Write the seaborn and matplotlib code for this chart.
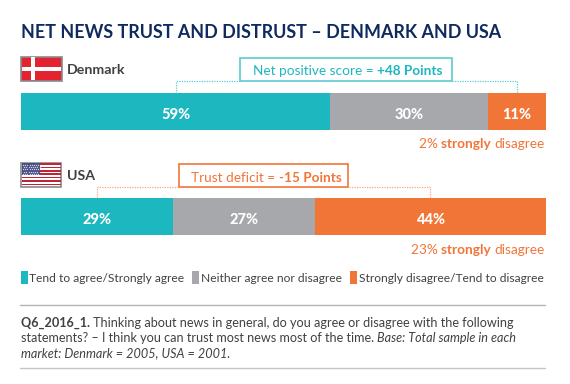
import matplotlib
matplotlib.use("Agg")
import matplotlib.pyplot as plt
from matplotlib.patches import Rectangle
import pandas as pd
import seaborn as sns

markets = ["Denmark", "USA"]
series_names = ["Tend to agree/Strongly agree", "Neither agree nor disagree", "Strongly disagree/Tend to disagree"]
agree = [59, 29]
neither = [30, 27]
disagree = [11, 44]
strongly_disagree = [2, 23]
colors = ["#1DB7C0", "#A7A8AB", "#F27538"]

sns.set_theme(style="white")
plt.rcParams["font.family"] = ["Lato", "DejaVu Sans"]

W, H = 570, 384
fig = plt.figure(figsize=(W / 100, H / 100), dpi=100)
ax = fig.add_axes([21 / W, 1 - 235 / H, 524.5 / W, 142 / H])
df = pd.DataFrame({"market": markets, "agree": agree, "neither": neither, "disagree": disagree})
left = [0, 0]
for col, c, name in zip(["agree", "neither", "disagree"], colors, series_names):
    sns.barplot(data=df, y="market", x=col, color=c, width=37 / 105, left=left, ax=ax,
                saturation=1, order=markets, linewidth=0, label=name)
    for i, v in enumerate(df[col]):
        ax.annotate(f"{v}%", (left[i] + v / 2, i), xytext=(0, -1.5), textcoords="offset points",
                    color="white", ha="center", va="center_baseline", fontsize=10.5, fontweight="black")
    left = [a + b for a, b in zip(left, df[col])]
ax.set_xlim(0, 100)
ax.set_ylim(1 + 0.5 * 142 / 105 - 0.5, -0.5 * 142 / 105 + 0.5)
ax.axis("off")
if ax.get_legend():
    ax.get_legend().remove()

ov = fig.add_axes([0, 0, 1, 1], zorder=5)
ov.set_xlim(0, W)
ov.set_ylim(H, 0)
ov.axis("off")
ov.patch.set_alpha(0)


def runs(x, y, parts, size, anchor="left"):
    """Draw consecutive text runs: (text, colour, weight, style)."""
    r = fig.canvas.get_renderer()
    arts = []
    cur = x
    for txt, col, wt, st in parts:
        t = ov.text(cur, y, txt, color=col, fontweight=wt, fontstyle=st, fontsize=size, ha="left", va="center_baseline")
        arts.append(t)
        cur += t.get_window_extent(r).width
    if anchor == "right":
        shift = cur - x
        for t in arts:
            t.set_x(t.get_position()[0] - shift)
    return cur


NAVY = "#0E2A5E"
DARK = "#414042"
TEAL = colors[0]
OR = colors[2]

ov.text(21, 30.5, "NET NEWS TRUST AND DISTRUST – DENMARK AND USA", color=NAVY, fontsize=12.88, fontweight="bold",
        va="center_baseline")

# flags
ov.add_patch(Rectangle((21, 56.5), 40.5, 24.5, fc="#E32430", ec="#8A8A8C", lw=1.2))
ov.add_patch(Rectangle((31, 57.2), 4, 23.2, fc="white", lw=0))
ov.add_patch(Rectangle((21.6, 66.8), 39.4, 4.2, fc="white", lw=0))
ov.add_patch(Rectangle((20.5, 162.5), 40.5, 24.5, fc="white", ec="#8A8A8C", lw=1.2))
for k in range(0, 7):
    ov.add_patch(Rectangle((21.5, 163.2 + k * 3.4), 39, 1.7, fc="#BE2535", lw=0))
ov.add_patch(Rectangle((21.5, 163), 18.5, 12.3, fc="#4A4E85", lw=0))
ov.scatter([23 + 2.2 * a + (1.1 if b % 2 else 0) for a in range(8) for b in range(5)],
           [164.6 + 2.3 * b for a in range(8) for b in range(5)], s=1.0, color="#C9CBE0", lw=0)

ov.text(67, 69, markets[0], color=DARK, fontsize=10.2, fontweight="bold", va="center_baseline")
ov.text(67, 175, markets[1], color=DARK, fontsize=10.2, fontweight="bold", va="center_baseline")

# callout boxes
ov.add_patch(Rectangle((240, 57.5), 211.5, 23, fc="white", ec="#5CCBD2", lw=1.2))
runs(253, 70, [("Net positive score = ", TEAL, "normal", "normal"), (f"+{agree[0] - disagree[0]} Points", TEAL, "bold", "normal")], 9.8)
ov.add_patch(Rectangle((178.5, 163.5), 169.5, 23, fc="white", ec=OR, lw=1.2))
runs(191, 176.5, [("Trust deficit = ", OR, "normal", "normal"), (f"{agree[1] - disagree[1]} Points", OR, "bold", "normal")], 9.8)

# dotted connectors
for xs, ys, c in [([240, 175.5, 175.5], [80.5, 80.5, 93], "#5CCBD2"),
                  ([452, 517, 517], [80.5, 80.5, 93], "#5CCBD2"),
                  ([178, 97, 97], [186.5, 186.5, 198], "#F6A77F"),
                  ([349, 430, 430], [186.5, 186.5, 198], "#F6A77F")]:
    ov.plot(xs, ys, color=c, lw=0.9, ls=(0, (1, 1)))

# strongly disagree
for y, v in [(143, strongly_disagree[0]), (249, strongly_disagree[1])]:
    runs(544.5, y, [(f"{v}% ", OR, "normal", "normal"), ("strongly ", OR, "bold", "normal"), ("disagree", OR, "normal", "normal")], 9.8, "right")

# legend
for x, c, name, tx in zip([21, 192, 350], colors, series_names, [29.3, 200.7, 359]):
    ov.add_patch(Rectangle((x, 271), 7, 13, fc=c, lw=0))
    ov.text(tx, 278, name, color=DARK, fontsize=8.65, va="center_baseline")

# note
ov.plot([20, 545], [304.5, 304.5], color="#B3B3B5", lw=1)
ov.plot([20, 545], [367.5, 367.5], color="#C4C4C6", lw=1)
NOTE = 9.1
runs(21, 322, [("Q6_2016_1. ", DARK, "bold", "normal"),
               ("Thinking about news in general, do you agree or disagree with the following", DARK, "normal", "normal")], NOTE)
runs(21, 337, [("statements? – I think you can trust most news most of the time. ", DARK, "normal", "normal"),
               ("Base: Total sample in each", DARK, "normal", "italic")], NOTE)
runs(21, 352, [("market: Denmark = 2005, USA = 2001.", DARK, "normal", "italic")], NOTE)

fig.savefig("out.png", dpi=100, facecolor="white")
